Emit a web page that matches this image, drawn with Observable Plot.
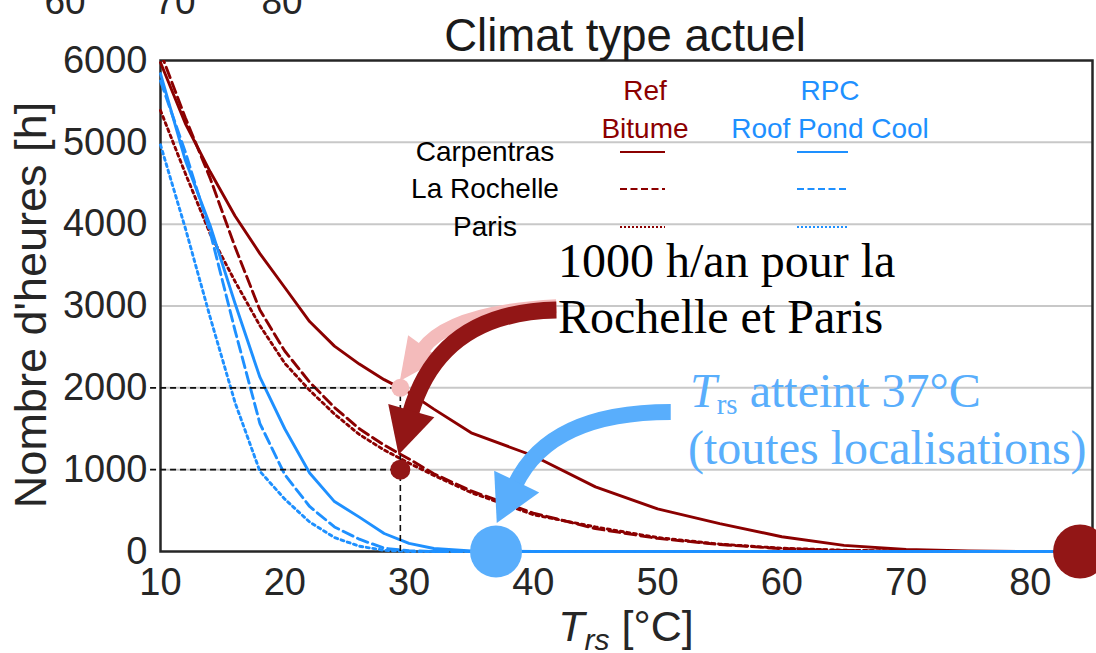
<!DOCTYPE html>
<html lang="fr">
<head>
<meta charset="utf-8">
<title>Climat type actuel</title>
<script src="https://cdn.jsdelivr.net/npm/d3@7"></script>
<script src="https://cdn.jsdelivr.net/npm/@observablehq/plot@0.6"></script>
<style>
  html, body { margin: 0; padding: 0; background: #fff; }
  #chart { position: relative; width: 1096px; height: 653px; overflow: hidden; }
  #chart > svg { position: absolute; left: 0; top: 0; }
</style>
</head>
<body>
<div id="chart"></div>
<script>
// Roof surface temperature T_rs (°C) at which the cumulative hours are sampled
const temps = [10, 12, 14, 16, 18, 20, 22, 24, 26, 28, 30, 32, 35, 40, 45, 50, 55, 60, 65, 70, 75, 80, 85];

// Hours per year with T_rs above each temperature — reference bitumen roof
const refCarpentras = [5975, 5230, 4640, 4100, 3640, 3226, 2810, 2510, 2290, 2100, 1943, 1740, 1450, 1170, 790, 520, 340, 180, 75, 25, 6, 0, 0];
const refLaRochelle = [6100, 5300, 4560, 3720, 2950, 2450, 2070, 1760, 1500, 1300, 1130, 950, 740, 470, 280, 160, 85, 35, 12, 4, 0, 0, 0];
const refParis      = [5390, 4620, 3880, 3300, 2760, 2300, 1970, 1680, 1430, 1240, 1080, 930, 720, 450, 300, 170, 90, 40, 15, 5, 0, 0, 0];

// Same quantity for the Roof Pond Cool (RPC) roof
const rpcCarpentras = [5840, 4780, 3980, 3030, 2130, 1500, 960, 610, 420, 220, 100, 37, 8, 0, 0, 0, 0, 0, 0, 0, 0, 0, 0];
const rpcLaRochelle = [5750, 4880, 3900, 2700, 1564, 940, 550, 300, 150, 40, 10, 0, 0, 0, 0, 0, 0, 0, 0, 0, 0, 0, 0];
const rpcParis      = [4970, 3950, 2860, 1820, 980, 640, 360, 170, 65, 15, 0, 0, 0, 0, 0, 0, 0, 0, 0, 0, 0, 0, 0];

// Axis ticks
const xTicks = [10, 20, 30, 40, 50, 60, 70, 80];
const yTicks = [0, 1000, 2000, 3000, 4000, 5000, 6000];

// Legend labels
const cities = ["Carpentras", "La Rochelle", "Paris"];
const roofRef = ["Ref", "Bitume"];
const roofRpc = ["RPC", "Roof Pond Cool"];

// Annotations
const thresholdHours = [2000, 1000];     // h/an
const thresholdT = 29.3;                 // °C
const rpcMaxT = 37;                      // °C, RPC roof peak (all sites)
const refMaxT = 84;                      // °C, bitumen roof peak
const noteRef = ["1000 h/an pour la", "Rochelle et Paris"];
const noteRpc = ["atteint 37°C", "(toutes localisations)"];
const arrowPink = {from: [41.9, 2990], bend: [33.3, 2921], to: [29.3, 2077]};
const arrowRed  = {from: [41.9, 2945], bend: [32.5, 2920], to: [29.2, 1175]};
const arrowBlue = {from: [51.1, 1700], bend: [41.4, 1700], to: [37.1, 342]};

// ---------- styles ----------
const sans = "'Liberation Sans', Arial, Helvetica, sans-serif";
const serif = "'Liberation Serif', 'Times New Roman', Times, serif";
const ink = "#262626";
const red = "#8b0000", blue = "#1e90ff";
const accentRed = "#921616", accentPink = "#f4bbbb", accentBlue = "#59aefc";
const dashed = "11,5", dotted = "3,3.6";

const series = [
  {values: refCarpentras, stroke: red,  dash: null,   clip: false},
  {values: refLaRochelle, stroke: red,  dash: dashed, clip: true},
  {values: refParis,      stroke: red,  dash: dotted, clip: false},
  {values: rpcCarpentras, stroke: blue, dash: null,   clip: false},
  {values: rpcLaRochelle, stroke: blue, dash: dashed, clip: false},
  {values: rpcParis,      stroke: blue, dash: dotted, clip: false}
];

// Curved, filled-head arrow drawn through the plot's own scales
function curvedArrow(a, color, width, headLength, headWidth) {
  return (index, scales) => {
    const px = (p) => [scales.x(p[0]), scales.y(p[1])];
    const [sx, sy] = px(a.from), [cx, cy] = px(a.bend), [tx, ty] = px(a.to);
    let dx = tx - cx, dy = ty - cy;
    const len = Math.hypot(dx, dy); dx /= len; dy /= len;
    const bx = tx - headLength * dx, by = ty - headLength * dy;
    const nx = -dy, ny = dx, hw = headWidth / 2;
    const g = d3.create("svg:g");
    g.append("path")
      .attr("d", `M${sx},${sy}Q${cx},${cy} ${bx + 3 * dx},${by + 3 * dy}`)
      .attr("fill", "none").attr("stroke", color).attr("stroke-width", width);
    g.append("path")
      .attr("d", `M${bx + nx * hw},${by + ny * hw}L${tx},${ty}L${bx - nx * hw},${by - ny * hw}Z`)
      .attr("fill", color);
    return g.node();
  };
}

const chart = Plot.plot({
  width: 1096,
  height: 653,
  marginLeft: 160,
  marginRight: 4,
  marginTop: 60,
  marginBottom: 102,
  style: {fontFamily: sans, fontSize: "38px", color: ink, background: "transparent", overflow: "visible"},
  x: {domain: [10, 85]},
  y: {domain: [0, 6000]},
  marks: [
    Plot.gridY(yTicks.slice(1, -1), {stroke: "#c8c8c8", strokeOpacity: 1, strokeWidth: 2}),
    Plot.frame({stroke: ink, strokeWidth: 2.5}),
    ...series.map((s) => Plot.line(temps, {
      x: (d) => d,
      y: (d, i) => s.values[i],
      stroke: s.stroke,
      strokeWidth: 2.9,
      strokeDasharray: s.dash,
      clip: s.clip
    })),
    Plot.axisX({ticks: xTicks, tickSize: 0, tickPadding: 17, fontSize: 38, fill: ink, label: null, tickFormat: (d) => String(d)}),
    Plot.axisY({ticks: yTicks, tickSize: 0, tickPadding: 13, fontSize: 38, fill: ink, label: null, tickFormat: (d) => String(d)}),
    Plot.ruleY(thresholdHours, {x1: 9.2, x2: thresholdT, stroke: "#111", strokeWidth: 1.6, strokeDasharray: "6,4"}),
    Plot.ruleX([thresholdT], {y1: 0, y2: thresholdHours[0], stroke: "#111", strokeWidth: 1.6, strokeDasharray: "6,4"}),
    curvedArrow(arrowPink, accentPink, 14, 42, 40),
    Plot.dot([thresholdHours[0]], {x: () => thresholdT, y: (d) => d, r: 9, fill: accentPink}),
    curvedArrow(arrowRed, accentRed, 17, 46, 48),
    Plot.dot([thresholdHours[1]], {x: () => thresholdT, y: (d) => d, r: 10, fill: accentRed}),
    curvedArrow(arrowBlue, accentBlue, 16, 46, 50),
    Plot.dot([rpcMaxT], {x: (d) => d, y: () => 0, r: 26, fill: accentBlue}),
    Plot.dot([refMaxT], {x: (d) => d, y: () => 0, r: 27, fill: accentRed})
  ]
});

const root = d3.select("#chart");
root.node().append(chart);

// Text layer: title, legend, axis titles and notes
const ov = root.append("svg")
  .attr("width", 1096).attr("height", 653)
  .attr("font-family", sans)
  .style("white-space", "pre")
  .style("pointer-events", "none");

// axis of a neighbouring panel, cut by the top edge
[[65, "60"], [175, "70"], [282, "80"]].forEach(([x, t]) =>
  ov.append("text").attr("x", x).attr("y", 14).attr("text-anchor", "middle")
    .attr("font-size", 37).attr("fill", ink).text(t));

ov.append("text").attr("x", 625).attr("y", 51).attr("text-anchor", "middle")
  .attr("font-size", 45.5).attr("fill", "#1a1a1a").text("Climat type actuel");

// legend column headers
roofRef.forEach((t, i) => ov.append("text").attr("x", 645).attr("y", 100 + 38 * i)
  .attr("text-anchor", "middle").attr("font-size", 28).attr("fill", red).text(t));
roofRpc.forEach((t, i) => ov.append("text").attr("x", 830).attr("y", 100 + 38 * i)
  .attr("text-anchor", "middle").attr("font-size", 28).attr("fill", blue).text(t));

// legend rows
const rowY = [152, 189, 227];
const rowDash = [null, "7,3.5", "2,2"];
cities.forEach((c, i) => {
  ov.append("text").attr("x", 485).attr("y", rowY[i] + 9).attr("text-anchor", "middle")
    .attr("font-size", 28).attr("fill", "#000").text(c);
  [[620, 665, red], [797, 848, blue]].forEach(([x1, x2, col]) =>
    ov.append("line").attr("x1", x1).attr("x2", x2).attr("y1", rowY[i]).attr("y2", rowY[i])
      .attr("stroke", col).attr("stroke-width", 2).attr("stroke-dasharray", rowDash[i]));
});

// y axis title
ov.append("text").attr("transform", "translate(46,305) rotate(-90)")
  .attr("text-anchor", "middle").attr("font-size", 45).attr("fill", ink)
  .text("Nombre d'heures [h]");

// x axis title
const xl = ov.append("text").attr("x", 626).attr("y", 641).attr("text-anchor", "middle")
  .attr("font-size", 43).attr("fill", ink);
xl.append("tspan").attr("font-style", "italic").text("T");
xl.append("tspan").attr("font-style", "italic").attr("font-size", 30).attr("dy", 9).text("rs");
xl.append("tspan").attr("dy", -9).text(" [°C]");

// notes
noteRef.forEach((t, i) => ov.append("text").attr("x", 558).attr("y", 277 + 56 * i)
  .attr("font-family", serif).attr("font-size", 48).attr("fill", "#000").text(t));

const n1 = ov.append("text").attr("x", 690).attr("y", 407)
  .attr("font-family", serif).attr("font-size", 48).attr("fill", accentBlue);
n1.append("tspan").attr("font-style", "italic").text("T");
n1.append("tspan").attr("font-size", 29).attr("dy", 7).text("rs");
n1.append("tspan").attr("dy", -7).text(" " + noteRpc[0]);
ov.append("text").attr("x", 688).attr("y", 464)
  .attr("font-family", serif).attr("font-size", 48).attr("fill", accentBlue).text(noteRpc[1]);
</script>
</body>
</html>
